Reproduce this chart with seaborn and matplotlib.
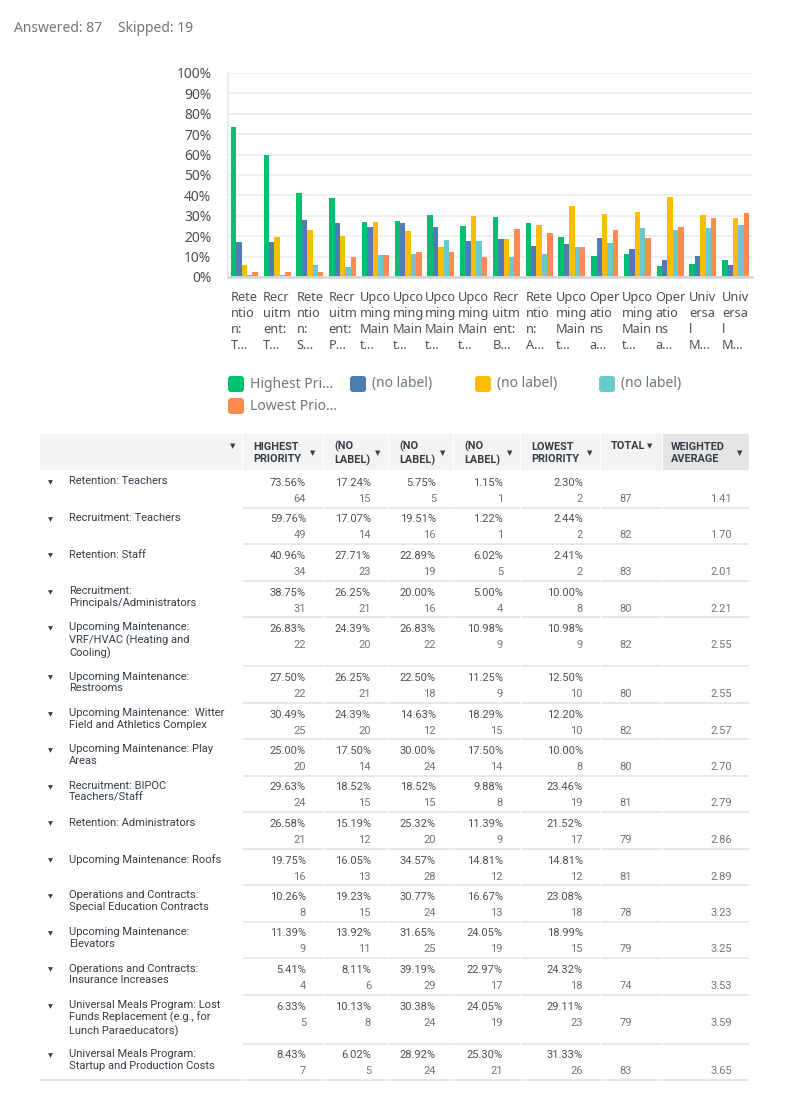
import matplotlib

matplotlib.use("Agg")

import matplotlib.pyplot as plt
import numpy as np
import pandas as pd
import seaborn as sns
from matplotlib.patches import FancyBboxPatch, Rectangle

sns.set_theme(style="white")
plt.rcParams["font.family"] = ["Noto Sans", "DejaVu Sans"]

# ---- data ----
row_labels = [
    "Retention: Teachers",
    "Recruitment: Teachers",
    "Retention: Staff",
    "Recruitment:\nPrincipals/Administrators",
    "Upcoming Maintenance:\nVRF/HVAC (Heating and\nCooling)",
    "Upcoming Maintenance:\nRestrooms",
    "Upcoming Maintenance:  Witter\nField and Athletics Complex",
    "Upcoming Maintenance: Play\nAreas",
    "Recruitment: BIPOC\nTeachers/Staff",
    "Retention: Administrators",
    "Upcoming Maintenance: Roofs",
    "Operations and Contracts:\nSpecial Education Contracts",
    "Upcoming Maintenance:\nElevators",
    "Operations and Contracts:\nInsurance Increases",
    "Universal Meals Program: Lost\nFunds Replacement (e.g., for\nLunch Paraeducators)",
    "Universal Meals Program:\nStartup and Production Costs",
]
short_labels = [
    "Rete\nntio\nn:\nT…", "Recr\nuitm\nent:\nT…", "Rete\nntio\nn:\nS…", "Recr\nuitm\nent:\nP…",
    "Upco\nming\nMain\nt…", "Upco\nming\nMain\nt…", "Upco\nming\nMain\nt…", "Upco\nming\nMain\nt…",
    "Recr\nuitm\nent:\nB…", "Rete\nntio\nn:\nA…", "Upco\nming\nMain\nt…", "Oper\natio\nns\na…",
    "Upco\nming\nMain\nt…", "Oper\natio\nns\na…", "Univ\nersa\nl\nM…", "Univ\nersa\nl\nM…",
]
levels = ["Highest Priority", "(no label) A", "(no label) B", "(no label) C", "Lowest Priority"]
legend_labels = ["Highest Pri…", "(no label)", "(no label)", "(no label)", "Lowest Prio…"]
header_labels = ["HIGHEST\nPRIORITY", "(NO\nLABEL)", "(NO\nLABEL)", "(NO\nLABEL)", "LOWEST\nPRIORITY"]

highest_pct = [73.56, 59.76, 40.96, 38.75, 26.83, 27.50, 30.49, 25.00, 29.63, 26.58, 19.75, 10.26, 11.39, 5.41, 6.33, 8.43]
label2_pct = [17.24, 17.07, 27.71, 26.25, 24.39, 26.25, 24.39, 17.50, 18.52, 15.19, 16.05, 19.23, 13.92, 8.11, 10.13, 6.02]
label3_pct = [5.75, 19.51, 22.89, 20.00, 26.83, 22.50, 14.63, 30.00, 18.52, 25.32, 34.57, 30.77, 31.65, 39.19, 30.38, 28.92]
label4_pct = [1.15, 1.22, 6.02, 5.00, 10.98, 11.25, 18.29, 17.50, 9.88, 11.39, 14.81, 16.67, 24.05, 22.97, 24.05, 25.30]
lowest_pct = [2.30, 2.44, 2.41, 10.00, 10.98, 12.50, 12.20, 10.00, 23.46, 21.52, 14.81, 23.08, 18.99, 24.32, 29.11, 31.33]

highest_n = [64, 49, 34, 31, 22, 22, 25, 20, 24, 21, 16, 8, 9, 4, 5, 7]
label2_n = [15, 14, 23, 21, 20, 21, 20, 14, 15, 12, 13, 15, 11, 6, 8, 5]
label3_n = [5, 16, 19, 16, 22, 18, 12, 24, 15, 20, 28, 24, 25, 29, 24, 24]
label4_n = [1, 1, 5, 4, 9, 9, 15, 14, 8, 9, 12, 13, 19, 17, 19, 21]
lowest_n = [2, 2, 2, 8, 9, 10, 10, 8, 19, 17, 12, 18, 15, 18, 23, 26]

totals = [87, 82, 83, 80, 82, 80, 82, 80, 81, 79, 81, 78, 79, 74, 79, 83]
weighted_avg = [1.41, 1.70, 2.01, 2.21, 2.55, 2.55, 2.57, 2.70, 2.79, 2.86, 2.89, 3.23, 3.25, 3.53, 3.59, 3.65]

answered = 87
skipped = 19

colors = ["#00BF6F", "#507CB6", "#F9BE00", "#6BC8CD", "#FF8B4F"]

pct_cols = [highest_pct, label2_pct, label3_pct, label4_pct, lowest_pct]
n_cols = [highest_n, label2_n, label3_n, label4_n, lowest_n]

wide = pd.DataFrame({lvl: vals for lvl, vals in zip(levels, pct_cols)})
wide["item"] = row_labels
long = wide.melt(id_vars="item", var_name="level", value_name="pct")

TEXT = "#333E48"
GRAY = "#6B787F"

# ---- figure ----
W, H = 800, 1100
fig = plt.figure(figsize=(W / 100, H / 100), dpi=100)

ax_left, ax_right, ax_top, ax_bottom = 228, 752, 73, 277
ax = fig.add_axes([ax_left / W, 1 - ax_bottom / H, (ax_right - ax_left) / W, (ax_bottom - ax_top) / H])
sns.barplot(
    data=long, x="item", y="pct", hue="level", order=row_labels, hue_order=levels,
    palette=colors, width=0.82, saturation=1, linewidth=0, errorbar=None, legend=False, ax=ax,
)
ax.set_ylim(0, 100)
ax.set_xlim(-0.5, len(row_labels) - 0.5)
ax.set_yticks(np.arange(0, 101, 10))
ax.set_yticklabels([f"{v}%" for v in range(0, 101, 10)], fontsize=10, color="#4B4F54")
ax.set_xticks(range(len(row_labels)))
ax.set_xticklabels(short_labels, fontsize=9.2, color="#4B4F54", linespacing=1.32,
                   ha="center", multialignment="left")
ax.tick_params(axis="y", length=0, pad=12)
ax.tick_params(axis="x", length=0, pad=10)
ax.set_xlabel("")
ax.set_ylabel("")
ax.grid(axis="y", color="#EDEEEE", linewidth=1.2)
ax.set_axisbelow(True)
for side in ["top", "right"]:
    ax.spines[side].set_visible(False)
ax.spines["left"].set_color("#E6E7E8")
ax.spines["left"].set_linewidth(1.2)
ax.spines["bottom"].set_color("#D5D8DA")
ax.spines["bottom"].set_linewidth(2)

# overlay in pixel coordinates for the header, legend and table
ov = fig.add_axes([0, 0, 1, 1])
ov.set_xlim(0, W)
ov.set_ylim(H, 0)
ov.set_axis_off()

ov.text(14, 28, f"Answered: {answered}", fontsize=10, color=GRAY, va="center")
ov.text(118, 28, f"Skipped: {skipped}", fontsize=10, color=GRAY, va="center")

# legend
leg_x = [228, 350, 475, 599, 228]
leg_y = [384, 384, 384, 384, 406]
for lbl, col, lx, ly in zip(legend_labels, colors, leg_x, leg_y):
    ov.add_patch(FancyBboxPatch((lx + 1.5, ly - 6.5), 13, 13, boxstyle="round,pad=1.5,rounding_size=3",
                                facecolor=col, edgecolor="none"))
    ov.text(lx + 22, ly, lbl, fontsize=10, color=GRAY, va="center")

# table
tfont = ["Roboto", "DejaVu Sans"]
col_edges = [40, 243, 324, 389, 454, 521, 601, 663, 750]
head_top, head_bot = 434, 470
for i in range(len(col_edges) - 1):
    x0, x1 = col_edges[i], col_edges[i + 1]
    face = "#E3E4E5" if i == len(col_edges) - 2 else "#F3F3F3"
    ov.add_patch(Rectangle((x0, head_top), x1 - x0 - 1.5, head_bot - head_top, facecolor=face, edgecolor="none"))

ov.text(233, 446, "▼", fontsize=5, color=TEXT, ha="center", va="center", family="DejaVu Sans")
for i, hl in enumerate(header_labels):
    x0, x1 = col_edges[i + 1], col_edges[i + 2]
    ov.text(x0 + 10, 453, hl, fontsize=7.8, fontweight="bold", color=TEXT, va="center",
            linespacing=1.3, family=tfont)
    ov.text(x1 - 11, 453, "▼", fontsize=5, color=TEXT, ha="center", va="center", family="DejaVu Sans")
ov.text(col_edges[6] + 10, 446, "TOTAL", fontsize=7.8, fontweight="bold", color=TEXT, va="center", family=tfont)
ov.text(650, 446, "▼", fontsize=5, color=TEXT, ha="center", va="center", family="DejaVu Sans")
ov.text(col_edges[7] + 8, 453, "WEIGHTED\nAVERAGE", fontsize=7.8, fontweight="bold", color=TEXT,
        va="center", linespacing=1.3, family=tfont)
ov.text(col_edges[8] - 10, 453, "▼", fontsize=5, color=TEXT, ha="center", va="center", family="DejaVu Sans")

line_col = "#E4E6E7"
row_top = 483.0
for r, label in enumerate(row_labels):
    nlines = label.count("\n") + 1
    if r > 0:
        for i in range(1, len(col_edges) - 1):
            ov.plot([col_edges[i], col_edges[i + 1] - 1.5], [row_top - 12, row_top - 12],
                    color=line_col, linewidth=1.3, solid_capstyle="butt")
    ov.text(50, row_top, "▼", fontsize=4.6, color=TEXT, ha="center", va="center", family="DejaVu Sans")
    ov.text(69, row_top - 6.5, label, fontsize=8, color=TEXT, va="top", linespacing=1.2, family=tfont)
    for c in range(5):
        xr = col_edges[c + 2] - 18
        ov.text(xr, row_top, f"{pct_cols[c][r]:.2f}%", fontsize=8, color="#4A5259", ha="right",
                va="center", family=tfont)
        ov.text(xr, row_top + 16, f"{n_cols[c][r]}", fontsize=8, color=GRAY, ha="right",
                va="center", family=tfont)
    ov.text(col_edges[7] - 31, row_top + 16, f"{totals[r]}", fontsize=8, color=GRAY, ha="right",
            va="center", family=tfont)
    ov.text(col_edges[8] - 18, row_top + 16, f"{weighted_avg[r]:.2f}", fontsize=8, color=GRAY,
            ha="right", va="center", family=tfont)
    last_top = row_top
    row_top += 36.5 + 12.5 * max(0, nlines - 2)

for i in range(len(col_edges) - 1):
    ov.plot([col_edges[i], col_edges[i + 1] - 1.5], [last_top + 24, last_top + 24],
            color=line_col, linewidth=1.5, solid_capstyle="butt")

fig.savefig("out.png", dpi=100)
plt.close(fig)
